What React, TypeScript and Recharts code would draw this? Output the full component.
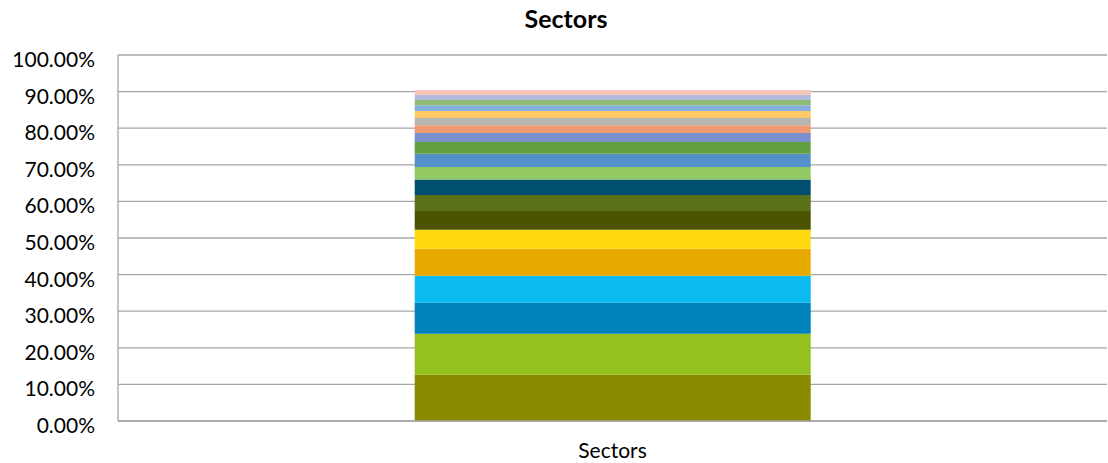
import { BarChart, Bar, XAxis, YAxis, CartesianGrid } from 'recharts'

const categories = ['Sectors']

// share of each sector, in percent, bottom to top of the stack
const sectorShares = [
  12.64, 11.19, 8.47, 7.37, 7.37, 5.19, 5.18, 4.37, 4.18, 3.46,
  3.63, 3.2, 2.46, 2.1, 1.99, 1.91, 1.56, 1.44, 1.37, 1.37,
]

const sectorColors = [
  '#898A00', '#95C120', '#0083BB', '#0BBAEE', '#E9AA00', '#FFD90F', '#4C5300', '#5A7217', '#004F71', '#92C963',
  '#5490C9', '#62A03F', '#7990CC', '#EF9B72', '#B8B6B1', '#FFC966', '#87B0E0', '#8EBB76', '#B3BCE0', '#F6C7B7',
]

const yTicks = [0, 10, 20, 30, 40, 50, 60, 70, 80, 90, 100]

const data = categories.map((name) => {
  const row: Record<string, number | string> = { name }
  sectorShares.forEach((v, i) => {
    row['s' + i] = v
  })
  return row
})

const font = 'Lato, "Open Sans", sans-serif'

function YTick({ x, y, payload }: any) {
  return (
    <text x={x} y={y} dy={12} textAnchor="end" fill="#000" fontSize={21} fontFamily={font}>
      {payload.value.toFixed(2)}%
    </text>
  )
}

function XTick({ x, y, payload }: any) {
  return (
    <text x={x} y={y} dy={29} textAnchor="middle" fill="#000" fontSize={21} fontFamily={font}>
      {payload.value}
    </text>
  )
}

export default function App() {
  return (
    <div style={{ position: 'fixed', left: 0, top: 0, width: 1108, height: 463, background: '#fff' }}>
      <div
        style={{
          position: 'absolute',
          top: 3,
          left: 466,
          width: 200,
          textAlign: 'center',
          fontFamily: font,
          fontWeight: 'bold',
          fontSize: 25,
        }}
      >
        Sectors
      </div>
      <BarChart
        width={1108}
        height={463}
        data={data}
        margin={{ top: 55, right: 1, left: 0, bottom: 0 }}
        barCategoryGap="30%"
      >
        <CartesianGrid vertical={false} stroke="#A6A6A6" strokeWidth={1.3} />
        <XAxis
          dataKey="name"
          height={42}
          tickLine={false}
          axisLine={{ stroke: '#A6A6A6', strokeWidth: 1.3 }}
          tick={<XTick />}
        />
        <YAxis
          width={118}
          domain={[0, 100]}
          ticks={yTicks}
          interval={0}
          tickLine={false}
          tickSize={0}
          tickMargin={23}
          axisLine={{ stroke: '#A6A6A6', strokeWidth: 1.3 }}
          tick={<YTick />}
        />
        {sectorShares.map((_, i) => (
          <Bar key={i} dataKey={'s' + i} stackId="a" fill={sectorColors[i]} isAnimationActive={false} />
        ))}
      </BarChart>
    </div>
  )
}
